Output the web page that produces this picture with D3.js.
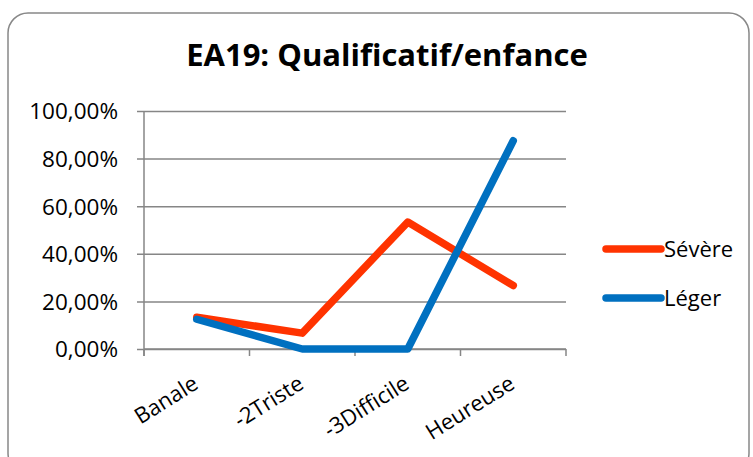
<!DOCTYPE html>
<html>
<head>
<meta charset="utf-8">
<script src="https://cdn.jsdelivr.net/npm/d3@7"></script>
<style>
  body { margin: 0; background: #fff; }
  text { font-family: "Open Sans", "Noto Sans", sans-serif; fill: #000; }
</style>
</head>
<body>
<svg id="chart" width="753" height="457"></svg>
<script>
const categories = ["Banale", "-2Triste", "-3Difficile", "Heureuse"];
const severe = [0.1333, 0.0667, 0.5333, 0.2667];
const leger = [0.125, 0, 0, 0.875];
const yTicks = [0, 0.2, 0.4, 0.6, 0.8, 1];
const seriesNames = ["Sévère", "Léger"];
const seriesColors = ["#ff3300", "#0070c0"];

const width = 753, height = 457;
const margin = { top: 111, right: 187, bottom: 108, left: 144 };

const svg = d3.select("#chart");

svg.append("rect")
  .attr("x", 8).attr("y", 13)
  .attr("width", 741).attr("height", 460)
  .attr("rx", 20)
  .attr("fill", "#fff")
  .attr("stroke", "#888")
  .attr("stroke-width", 1.5);

svg.append("text")
  .attr("x", 387).attr("y", 66)
  .attr("text-anchor", "middle")
  .style("font-size", "31px")
  .style("font-weight", "bold")
  .text("EA19: Qualificatif/enfance");

const x = d3.scaleBand()
  .domain(categories)
  .range([margin.left, width - margin.right]);

const y = d3.scaleLinear()
  .domain([0, 1])
  .range([height - margin.bottom, margin.top]);

const fmt = d => d3.format(".2f")(d * 100).replace(".", ",") + "%";

// gridlines + y axis
const yAxis = svg.append("g")
  .attr("transform", `translate(${margin.left},0)`)
  .call(d3.axisLeft(y).tickValues(yTicks).tickFormat(fmt)
    .tickSize(-(width - margin.left - margin.right)).tickPadding(0));
yAxis.select(".domain").remove();
yAxis.selectAll(".tick line")
  .attr("x1", -7)
  .attr("stroke", "#868686").attr("stroke-width", 1.5);
yAxis.selectAll(".tick text")
  .attr("x", -26)
  .attr("dy", "0.35em")
  .style("font-size", "22.5px");

svg.append("line")
  .attr("x1", margin.left).attr("x2", margin.left)
  .attr("y1", y(1)).attr("y2", y(0) + 7)
  .attr("stroke", "#868686").attr("stroke-width", 1.5);

// x axis
const xAxis = svg.append("g")
  .attr("transform", `translate(0,${y(0)})`);
xAxis.append("line")
  .attr("x1", margin.left).attr("x2", width - margin.right)
  .attr("stroke", "#868686").attr("stroke-width", 1.5);
const bounds = categories.map(c => x(c)).concat([width - margin.right]);
xAxis.selectAll("line.tk").data(bounds).join("line")
  .attr("class", "tk")
  .attr("x1", d => d).attr("x2", d => d)
  .attr("y1", 0).attr("y2", 7)
  .attr("stroke", "#868686").attr("stroke-width", 1.5);
xAxis.selectAll("text").data(categories).join("text")
  .attr("text-anchor", "end")
  .attr("transform", d => `translate(${x(d) + x.bandwidth() / 2 - 1},${32}) rotate(-32)`)
  .attr("dy", "0.35em")
  .style("font-size", "22px")
  .text(d => d);

// lines
const line = d3.line()
  .x((d, i) => x(categories[i]) + x.bandwidth() / 2)
  .y(d => y(d));

[severe, leger].forEach((s, i) => {
  svg.append("path")
    .datum(s)
    .attr("d", line)
    .attr("fill", "none")
    .attr("stroke", seriesColors[i])
    .attr("stroke-width", 7.5)
    .attr("stroke-linecap", "round")
    .attr("stroke-linejoin", "round");
});

// legend
const legend = svg.append("g");
seriesNames.forEach((name, i) => {
  const ly = 249 + i * 49;
  legend.append("line")
    .attr("x1", 606).attr("x2", 661)
    .attr("y1", ly).attr("y2", ly)
    .attr("stroke", seriesColors[i])
    .attr("stroke-width", 7.5)
    .attr("stroke-linecap", "round");
  legend.append("text")
    .attr("x", 664).attr("y", ly)
    .attr("dy", "0.35em")
    .style("font-size", "22px")
    .text(name);
});
</script>
</body>
</html>
